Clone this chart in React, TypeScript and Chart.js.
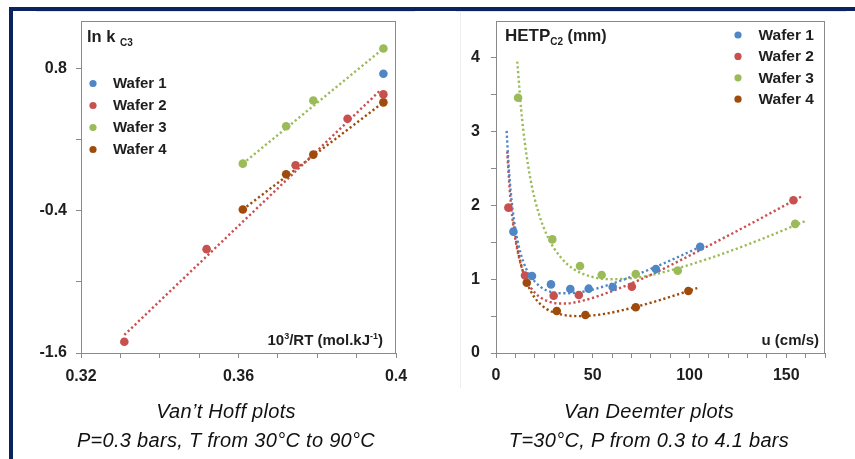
import React, { useEffect, useRef } from 'react';
import { Chart, registerables } from 'chart.js';

Chart.register(...registerables);

const FONT = '"Liberation Sans", Arial, Helvetica, sans-serif';
const TEXT = '#1e1e1e';
const AXIS = '#8a8a8a';

const seriesNames = ['Wafer 1', 'Wafer 2', 'Wafer 3', 'Wafer 4'];
const seriesColors = ['#4f86c6', '#c8504e', '#9bbb59', '#9e4b0b'];

// ---------- Van't Hoff plot ----------
const vhXTicks = [0.32, 0.33, 0.34, 0.35, 0.36, 0.37, 0.38, 0.39, 0.4];
const vhXTickLabels = ['0.32', '', '', '', '0.36', '', '', '', '0.4'];
const vhYTicks = [-1.6, -1.0, -0.4, 0.2, 0.8];
const vhYTickLabels = ['-1.6', '', '-0.4', '', '0.8'];

const vhW1X = [0.3968];
const vhW1Y = [0.755];
const vhW2X = [0.331, 0.3519, 0.3745, 0.3877, 0.3968];
const vhW2Y = [-1.505, -0.724, -0.017, 0.376, 0.581];
const vhW3X = [0.3611, 0.3721, 0.379, 0.3968];
const vhW3Y = [-0.003, 0.312, 0.53, 0.968];
const vhW4X = [0.3611, 0.3721, 0.379, 0.3968];
const vhW4Y = [-0.39, -0.093, 0.073, 0.514];

const vhW2TrendX = [0.331, 0.3962];
const vhW2TrendY = [-1.448, 0.621];
const vhW3TrendX = [0.3611, 0.3968];
const vhW3TrendY = [-0.003, 0.968];
const vhW4TrendX = [0.3611, 0.3968];
const vhW4TrendY = [-0.39, 0.514];

// ---------- Van Deemter plot ----------
const vdXTicks = [0, 10, 20, 30, 40, 50, 60, 70, 80, 90, 100, 110, 120, 130, 140, 150, 160, 170];
const vdXTickLabels = ['0', '', '', '', '', '50', '', '', '', '', '100', '', '', '', '', '150', '', ''];
const vdYTicks = [0, 0.5, 1, 1.5, 2, 2.5, 3, 3.5, 4];
const vdYTickLabels = ['0', '', '1', '', '2', '', '3', '', '4'];

const vdW1U = [9.0, 18.6, 28.4, 38.4, 47.9, 60.3, 82.6, 105.5];
const vdW1H = [1.645, 1.044, 0.93, 0.868, 0.872, 0.895, 1.139, 1.44];
const vdW2U = [6.4, 15.0, 29.8, 42.8, 70.2, 153.7];
const vdW2H = [1.97, 1.05, 0.777, 0.786, 0.9, 2.07];
const vdW3U = [11.4, 29.1, 43.4, 54.6, 72.2, 93.9, 154.6];
const vdW3H = [3.46, 1.54, 1.18, 1.058, 1.07, 1.116, 1.75];
const vdW4U = [15.9, 31.4, 46.2, 72.2, 99.4];
const vdW4H = [0.953, 0.57, 0.515, 0.62, 0.84];

const vdW1CurveU = [5.5, 6.5, 8, 10, 12.5, 16, 20, 26, 35, 45, 60, 80, 107];
const vdW1CurveH = [3.01, 2.55, 2.08, 1.68, 1.37, 1.12, 0.97, 0.85, 0.81, 0.83, 0.94, 1.14, 1.455];
const vdW2CurveU = [5.8, 7, 8.5, 10, 12, 15, 20, 27, 35, 45, 60, 80, 100, 130, 158.4];
const vdW2CurveH = [2.73, 2.24, 1.82, 1.54, 1.28, 1.03, 0.82, 0.7, 0.67, 0.71, 0.84, 1.06, 1.32, 1.73, 2.13];
const vdW3CurveU = [11, 13, 15, 18, 22, 27, 33, 40, 50, 60, 75, 90, 110, 135, 160];
const vdW3CurveH = [3.95, 3.3, 2.83, 2.33, 1.9, 1.56, 1.31, 1.14, 1.03, 1.0, 1.03, 1.12, 1.28, 1.52, 1.79];
const vdW4CurveU = [9, 11, 13, 16, 20, 26, 34, 44, 56, 70, 85, 104];
const vdW4CurveH = [1.78, 1.43, 1.19, 0.95, 0.75, 0.6, 0.52, 0.5, 0.53, 0.61, 0.72, 0.88];

const pts = (xs: number[], ys: number[]) => xs.map((x, i) => ({ x, y: ys[i] }));

const pointSet = (xs: number[], ys: number[], color: string) => ({
  data: pts(xs, ys),
  showLine: false,
  backgroundColor: color,
  borderColor: color,
  pointRadius: 4.3,
  pointBorderWidth: 0,
  pointHoverRadius: 4.3,
  order: 0,
});

const trendSet = (xs: number[], ys: number[], color: string) => ({
  data: pts(xs, ys),
  showLine: true,
  borderColor: color,
  backgroundColor: color,
  borderWidth: 2.4,
  borderDash: [2.2, 2.6],
  pointRadius: 0,
  pointHoverRadius: 0,
  fill: false,
  cubicInterpolationMode: 'monotone',
  order: 1,
});

type Seg = { text: string; size: number; dy?: number };

function drawSegs(ctx: CanvasRenderingContext2D, segs: Seg[], x: number, y: number, alignRight: boolean) {
  const widths = segs.map((s) => {
    ctx.font = `bold ${s.size}px ${FONT}`;
    return ctx.measureText(s.text).width;
  });
  const total = widths.reduce((a, b) => a + b, 0);
  let cx = alignRight ? x - total : x;
  ctx.textAlign = 'left';
  ctx.textBaseline = 'alphabetic';
  ctx.fillStyle = TEXT;
  segs.forEach((s, i) => {
    ctx.font = `bold ${s.size}px ${FONT}`;
    ctx.fillText(s.text, cx, y + (s.dy || 0));
    cx += widths[i];
  });
}

function makeOverlay(cfg: {
  id: string;
  legendX: number;
  legendY: number;
  legendGap: number;
  legendTextDx: number;
  legendSize: number;
  title: Seg[];
  titleX: number;
  titleY: number;
  axisLabel: Seg[];
  axisRight: number;
  axisBottom: number;
}) {
  return {
    id: cfg.id,
    afterDraw(chart: any) {
      const ctx: CanvasRenderingContext2D = chart.ctx;
      const a = chart.chartArea;
      ctx.save();
      // frame (top & right)
      ctx.strokeStyle = AXIS;
      ctx.lineWidth = 1;
      ctx.beginPath();
      ctx.moveTo(Math.round(a.left), Math.round(a.top) + 0.5);
      ctx.lineTo(Math.round(a.right), Math.round(a.top) + 0.5);
      ctx.moveTo(Math.round(a.right) - 0.5, Math.round(a.top));
      ctx.lineTo(Math.round(a.right) - 0.5, Math.round(a.bottom));
      ctx.stroke();
      // legend
      seriesNames.forEach((name, i) => {
        const mx = a.left + cfg.legendX;
        const my = a.top + cfg.legendY + i * cfg.legendGap;
        ctx.fillStyle = seriesColors[i];
        ctx.beginPath();
        ctx.arc(mx, my, 3.6, 0, Math.PI * 2);
        ctx.fill();
        ctx.fillStyle = TEXT;
        ctx.font = `bold ${cfg.legendSize}px ${FONT}`;
        ctx.textAlign = 'left';
        ctx.textBaseline = 'middle';
        ctx.fillText(name, mx + cfg.legendTextDx, my + 0.5);
      });
      // title inside plot
      drawSegs(ctx, cfg.title, a.left + cfg.titleX, a.top + cfg.titleY, false);
      // axis caption inside plot (bottom right)
      drawSegs(ctx, cfg.axisLabel, a.right - cfg.axisRight, a.bottom - cfg.axisBottom, true);
      ctx.restore();
    },
  };
}

const tickFont = { family: FONT, size: 16, weight: 'bold' as const };

function axis(
  min: number,
  max: number,
  ticks: number[],
  labels: string[],
  padding: number,
  fit: (s: any) => void
) {
  return {
    type: 'linear',
    min,
    max,
    afterBuildTicks: (s: any) => {
      s.ticks = ticks.map((v) => ({ value: v }));
    },
    afterFit: fit,
    ticks: {
      autoSkip: false,
      maxRotation: 0,
      minRotation: 0,
      padding,
      font: tickFont,
      color: TEXT,
      callback: (_v: any, i: number) => labels[i] ?? '',
    },
    grid: {
      display: true,
      drawOnChartArea: false,
      drawTicks: true,
      tickLength: 5,
      color: AXIS,
      lineWidth: 1,
    },
    border: { display: true, color: AXIS, width: 1 },
  };
}

function vantHoffConfig(): any {
  return {
    type: 'scatter',
    data: {
      datasets: [
        trendSet(vhW2TrendX, vhW2TrendY, seriesColors[1]),
        trendSet(vhW3TrendX, vhW3TrendY, seriesColors[2]),
        trendSet(vhW4TrendX, vhW4TrendY, seriesColors[3]),
        pointSet(vhW1X, vhW1Y, seriesColors[0]),
        pointSet(vhW2X, vhW2Y, seriesColors[1]),
        pointSet(vhW3X, vhW3Y, seriesColors[2]),
        pointSet(vhW4X, vhW4Y, seriesColors[3]),
      ],
    },
    options: {
      responsive: false,
      animation: false,
      devicePixelRatio: 1,
      layout: { padding: { top: 21, right: 34, left: 0, bottom: 0 } },
      plugins: { legend: { display: false }, tooltip: { enabled: false } },
      scales: {
        x: { position: 'bottom', ...axis(0.32, 0.4, vhXTicks, vhXTickLabels, 9, (s: any) => { s.height = 47; }) },
        y: { position: 'left', ...axis(-1.6, 1.2, vhYTicks, vhYTickLabels, 9, (s: any) => { s.width = 81; }) },
      },
    },
    plugins: [
      makeOverlay({
        id: 'vhOverlay',
        legendX: 12,
        legendY: 62.5,
        legendGap: 22,
        legendTextDx: 20,
        legendSize: 15,
        title: [
          { text: 'ln k ', size: 16.5 },
          { text: 'C3', size: 10, dy: 4 },
        ],
        titleX: 6,
        titleY: 21,
        axisLabel: [
          { text: '10', size: 15 },
          { text: '3', size: 9, dy: -6 },
          { text: '/RT (mol.kJ', size: 15 },
          { text: '-1', size: 9, dy: -6 },
          { text: ')', size: 15 },
        ],
        axisRight: 13,
        axisBottom: 8,
      }),
    ],
  };
}

function vanDeemterConfig(): any {
  return {
    type: 'scatter',
    data: {
      datasets: [
        trendSet(vdW1CurveU, vdW1CurveH, seriesColors[0]),
        trendSet(vdW2CurveU, vdW2CurveH, seriesColors[1]),
        trendSet(vdW3CurveU, vdW3CurveH, seriesColors[2]),
        trendSet(vdW4CurveU, vdW4CurveH, seriesColors[3]),
        pointSet(vdW1U, vdW1H, seriesColors[0]),
        pointSet(vdW2U, vdW2H, seriesColors[1]),
        pointSet(vdW3U, vdW3H, seriesColors[2]),
        pointSet(vdW4U, vdW4H, seriesColors[3]),
      ],
    },
    options: {
      responsive: false,
      animation: false,
      devicePixelRatio: 1,
      layout: { padding: { top: 21, right: 30, left: 0, bottom: 0 } },
      plugins: { legend: { display: false }, tooltip: { enabled: false } },
      scales: {
        x: { position: 'bottom', ...axis(0, 170, vdXTicks, vdXTickLabels, 8, (s: any) => { s.height = 47; }) },
        y: { position: 'left', ...axis(0, 4.5, vdYTicks, vdYTickLabels, 11, (s: any) => { s.width = 66; }) },
      },
    },
    plugins: [
      makeOverlay({
        id: 'vdOverlay',
        legendX: 242,
        legendY: 14,
        legendGap: 21.4,
        legendTextDx: 20.5,
        legendSize: 15.5,
        title: [
          { text: 'HETP', size: 17 },
          { text: 'C2', size: 10, dy: 4 },
          { text: ' (mm)', size: 16 },
        ],
        titleX: 9,
        titleY: 20,
        axisLabel: [{ text: 'u (cm/s)', size: 15 }],
        axisRight: 6,
        axisBottom: 8,
      }),
    ],
  };
}

function ChartCanvas({ make, left, top, width, height }: { make: () => any; left: number; top: number; width: number; height: number }) {
  const ref = useRef<HTMLCanvasElement>(null);
  useEffect(() => {
    const chart = new Chart(ref.current as HTMLCanvasElement, make());
    return () => chart.destroy();
  }, []);
  return (
    <canvas
      ref={ref}
      width={width}
      height={height}
      style={{ position: 'absolute', left, top, width, height, display: 'block' }}
    />
  );
}

const captionStyle = (center: number): React.CSSProperties => ({
  position: 'absolute',
  left: center - 200,
  top: 397,
  width: 400,
  textAlign: 'center',
  fontFamily: FONT,
  fontStyle: 'italic',
  fontSize: 20,
  letterSpacing: 0.3,
  lineHeight: '28.5px',
  color: '#111',
  whiteSpace: 'nowrap',
});

export default function App() {
  return (
    <div
      style={{
        position: 'absolute',
        left: 0,
        top: 0,
        width: 855,
        height: 459,
        background: '#fff',
        overflow: 'hidden',
      }}
    >
      {/* faint picture edges */}
      <div style={{ position: 'absolute', left: 36, top: 11, width: 379, height: 1, background: '#e4e4e4' }} />
      <div style={{ position: 'absolute', left: 456, top: 11, width: 390, height: 1, background: '#e4e4e4' }} />
      <div style={{ position: 'absolute', left: 460, top: 11, width: 1, height: 377, background: '#eeeeee' }} />
      {/* navy frame */}
      <div style={{ position: 'absolute', left: 9, top: 7, width: 846, height: 4, background: '#0b2260' }} />
      <div style={{ position: 'absolute', left: 9, top: 7, width: 4, height: 452, background: '#0b2260' }} />

      <ChartCanvas make={vantHoffConfig} left={0} top={0} width={430} height={400} />
      <ChartCanvas make={vanDeemterConfig} left={430} top={0} width={425} height={400} />

      <div style={captionStyle(226)}>
        <div>Van’t Hoff plots</div>
        <div>P=0.3 bars, T from 30°C to 90°C</div>
      </div>
      <div style={captionStyle(649)}>
        <div>Van Deemter plots</div>
        <div>T=30°C, P from 0.3 to 4.1 bars</div>
      </div>
    </div>
  );
}
